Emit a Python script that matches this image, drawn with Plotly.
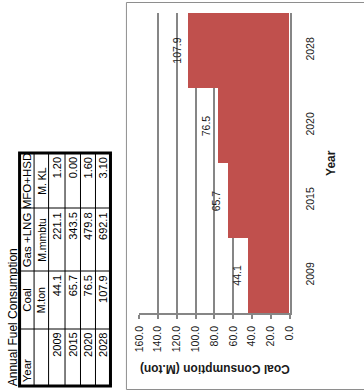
import plotly.graph_objects as go

# Page size in pixels
W, H = 364, 392

# ---- data -------------------------------------------------------------
years = ["2009", "2015", "2020", "2028"]
coal_mton = [44.1, 65.7, 76.5, 107.9]
gas_mmmbtu = [221.1, 343.5, 479.8, 692.1]
mfo_mkl = [1.20, 0.00, 1.60, 3.10]

table_title = "Annual Fuel Consumption"
table_headers = ["Year", "Coal", "Gas +LNG", "MFO+HSD"]
table_units = ["", "M.ton", "M.mmbtu", "M. KL"]

value_ticks = [0, 20, 40, 60, 80, 100, 120, 140, 160]
value_axis_title = "Coal Consumption (M.ton)"
category_axis_title = "Year"

# ---- styles -----------------------------------------------------------
FONT = "Arial, 'Liberation Sans', sans-serif"
BAR = "#C0504D"
GRID = "#868686"
TXT = "#1a1a1a"


def px(x):
    return x / W


def py(y):
    return 1 - y / H


fig = go.Figure()

# The whole sheet is laid out turned a quarter turn: bars run right-to-left.
fig.add_trace(go.Bar(
    y=years, x=coal_mton, orientation="h",
    marker=dict(color=BAR, line=dict(width=0)),
    hoverinfo="skip",
))

annotations = []
shapes = []

# value labels just past the bar ends (y given as category index)
for i, v in enumerate(coal_mton):
    annotations.append(dict(
        x=v, y=i, xref="x", yref="y", text=f"{v:.1f}", showarrow=False,
        textangle=-90, xanchor="center", yanchor="middle", xshift=-12,
        font=dict(family=FONT, size=10.5, color=TXT),
    ))

# axis titles
annotations.append(dict(
    x=px(214.5), y=py(369), xref="paper", yref="paper", text=f"<b>{value_axis_title}</b>",
    showarrow=False, textangle=180, xanchor="center", yanchor="middle",
    font=dict(family=FONT, size=12, color=TXT),
))
annotations.append(dict(
    x=px(335), y=py(163), xref="paper", yref="paper", text=f"<b>{category_axis_title}</b>",
    showarrow=False, textangle=-90, xanchor="center", yanchor="middle",
    font=dict(family=FONT, size=12, color=TXT),
))

# chart area frame (right edge runs off the page)
frame = dict(type="line", xref="paper", yref="paper", line=dict(color="#8E8E8E", width=1))
shapes.append({**frame, "x0": px(123.5), "x1": px(123.5), "y0": py(2.5), "y1": py(389.5)})
shapes.append({**frame, "x0": px(123.5), "x1": px(380), "y0": py(2.5), "y1": py(2.5)})
shapes.append({**frame, "x0": px(123.5), "x1": px(380), "y0": py(389.5), "y1": py(389.5)})

# ---- fuel table (rows become vertical strips, columns horizontal bands) ----
strip_x = [13, 28, 43, 60, 76, 91.5, 107]          # left->right: header, units, 4 years
band_y = [386, 329, 271, 208, 153]                 # bottom->top: Year, Coal, Gas, MFO

line = dict(type="line", xref="paper", yref="paper", line=dict(color="black", width=1))
for xs in strip_x[1:-1]:
    shapes.append({**line, "x0": px(xs), "x1": px(xs), "y0": py(band_y[0]), "y1": py(band_y[-1])})
for ys in band_y[1:-1]:
    shapes.append({**line, "x0": px(strip_x[0]), "x1": px(strip_x[-1]), "y0": py(ys), "y1": py(ys)})
shapes.append(dict(type="rect", xref="paper", yref="paper",
                   x0=px(strip_x[0]), x1=px(strip_x[-1]), y0=py(band_y[0]), y1=py(band_y[-1]),
                   line=dict(color="black", width=3)))

annotations.append(dict(
    x=px(6.5), y=py(388), xref="paper", yref="paper", text=table_title, showarrow=False,
    textangle=-90, xanchor="center", yanchor="bottom",
    font=dict(family=FONT, size=12, color="black"),
))


def cell(text, strip, band, align, size):
    xc = (strip_x[strip] + strip_x[strip + 1]) / 2
    y_bot, y_top = band_y[band], band_y[band + 1]
    if align == "right":
        y, ya = y_top + 2, "top"
    elif align == "left":
        y, ya = y_bot - 2, "bottom"
    else:
        y, ya = (y_bot + y_top) / 2, "middle"
    annotations.append(dict(
        x=px(xc), y=py(y), xref="paper", yref="paper", text=text, showarrow=False,
        textangle=-90, xanchor="center", yanchor=ya,
        font=dict(family=FONT, size=size, color="black"),
    ))


for c, h in enumerate(table_headers):
    cell(h, 0, c, "left" if c == 0 else "center", 11.5)
for c, u in enumerate(table_units):
    if u:
        cell(u, 1, c, "center", 10.5)
for r in range(len(years)):
    cell(years[r], 2 + r, 0, "right", 11)
    cell(f"{coal_mton[r]:.1f}", 2 + r, 1, "right", 11)
    cell(f"{gas_mmmbtu[r]:.1f}", 2 + r, 2, "right", 11)
    cell(f"{mfo_mkl[r]:.2f}", 2 + r, 3, "right", 11)

fig.update_layout(
    width=W, height=H, margin=dict(l=0, r=0, t=0, b=0),
    paper_bgcolor="white", plot_bgcolor="white",
    showlegend=False, bargap=0,
    font=dict(family=FONT, color=TXT),
    xaxis=dict(
        domain=[px(136.7), px(292.3)], range=[160, 0],
        tickvals=value_ticks, tickformat=".1f", tickangle=-90,
        showgrid=True, gridcolor=GRID, gridwidth=1.6, zeroline=False,
        showline=True, linecolor=GRID, linewidth=1.5,
        ticks="outside", ticklen=4, tickcolor=GRID, tickwidth=1.5,
        tickfont=dict(family=FONT, size=10.5, color=TXT), ticklabelstandoff=3,
        anchor="y", fixedrange=True,
    ),
    yaxis=dict(
        domain=[py(313), py(13)], type="category",
        categoryorder="array", categoryarray=years, range=[-0.5, 3.5],
        side="right", showline=True, linecolor=GRID, linewidth=1.6,
        showgrid=False, ticks="", tickangle=-90,
        tickfont=dict(family=FONT, size=10.5, color=TXT), ticklabelstandoff=10,
        anchor="x", fixedrange=True,
    ),
    annotations=annotations, shapes=shapes,
)

fig.write_html("out.html")
